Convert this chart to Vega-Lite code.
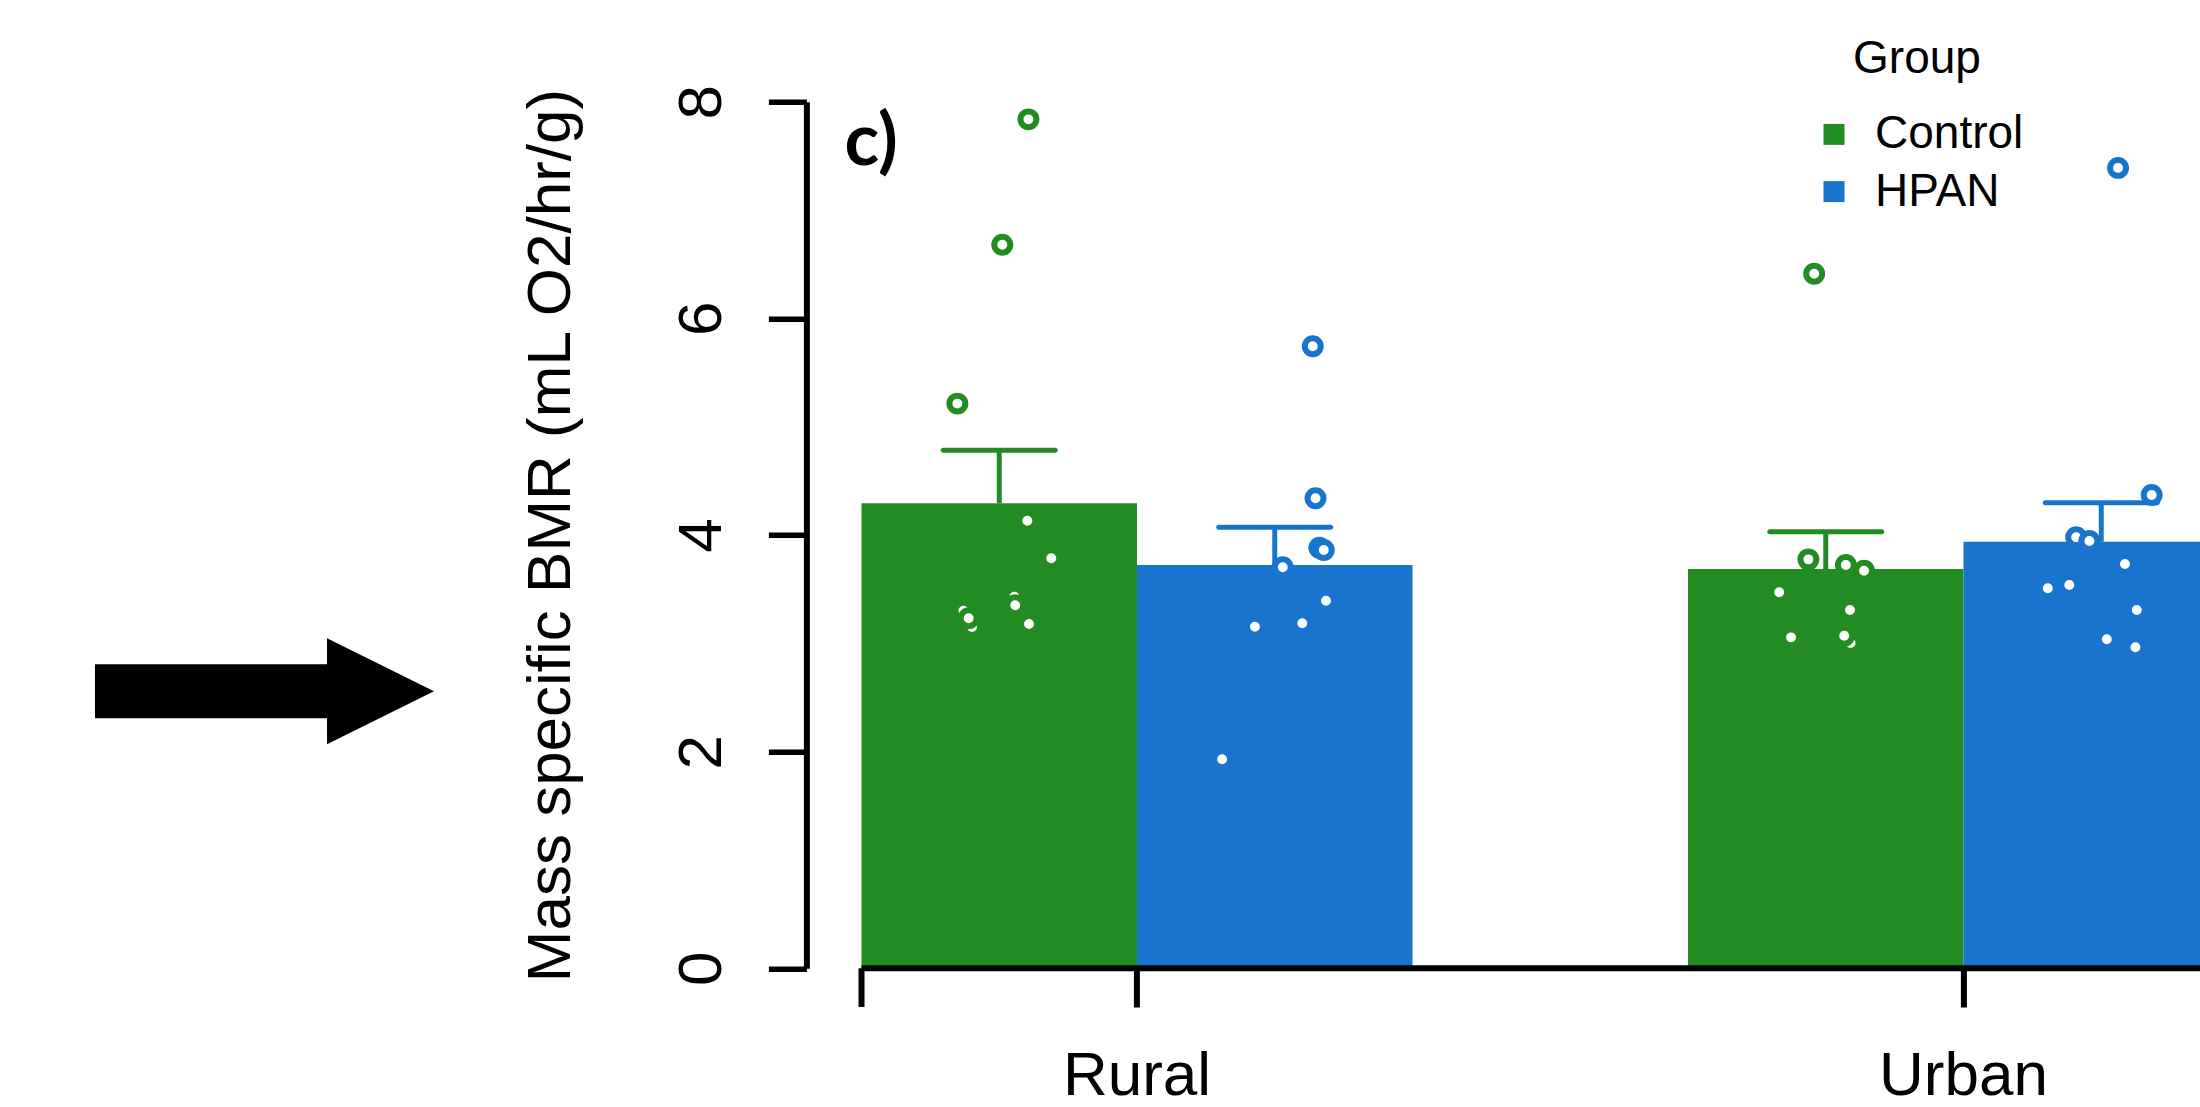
{
  "$schema": "https://vega.github.io/schema/vega-lite/v6.json",
  "width": 1393.6,
  "height": 866.6,
  "autosize": {"type": "none"},
  "padding": {"left": 806.4, "top": 101.7, "right": 0, "bottom": 138.7},
  "background": "white",
  "config": {"view": {"stroke": null}, "font": "Liberation Sans"},
  "datasets": {
    "bars": [
      {"site": "Rural", "group": "Control", "mean": 4.294, "se_top": 4.782},
      {"site": "Rural", "group": "HPAN", "mean": 3.723, "se_top": 4.071},
      {"site": "Urban", "group": "Control", "mean": 3.686, "se_top": 4.030},
      {"site": "Urban", "group": "HPAN", "mean": 3.938, "se_top": 4.298}
    ],
    "pts": [
      {"site": "Rural", "group": "Control", "val": 7.837, "jit": 0.606},
      {"site": "Rural", "group": "Control", "val": 6.679, "jit": 0.511},
      {"site": "Rural", "group": "Control", "val": 5.213, "jit": 0.348},
      {"site": "Rural", "group": "Control", "val": 4.132, "jit": 0.602},
      {"site": "Rural", "group": "Control", "val": 3.786, "jit": 0.689},
      {"site": "Rural", "group": "Control", "val": 3.430, "jit": 0.555},
      {"site": "Rural", "group": "Control", "val": 3.351, "jit": 0.558},
      {"site": "Rural", "group": "Control", "val": 3.301, "jit": 0.370},
      {"site": "Rural", "group": "Control", "val": 3.151, "jit": 0.401},
      {"site": "Rural", "group": "Control", "val": 3.178, "jit": 0.608},
      {"site": "Rural", "group": "Control", "val": 3.231, "jit": 0.389},
      {"site": "Rural", "group": "HPAN", "val": 5.743, "jit": 1.638},
      {"site": "Rural", "group": "HPAN", "val": 4.339, "jit": 1.648},
      {"site": "Rural", "group": "HPAN", "val": 3.883, "jit": 1.662},
      {"site": "Rural", "group": "HPAN", "val": 3.861, "jit": 1.678},
      {"site": "Rural", "group": "HPAN", "val": 3.702, "jit": 1.529},
      {"site": "Rural", "group": "HPAN", "val": 3.393, "jit": 1.686},
      {"site": "Rural", "group": "HPAN", "val": 3.153, "jit": 1.428},
      {"site": "Rural", "group": "HPAN", "val": 3.185, "jit": 1.600},
      {"site": "Rural", "group": "HPAN", "val": 1.929, "jit": 1.309},
      {"site": "Urban", "group": "Control", "val": 6.412, "jit": 0.458},
      {"site": "Urban", "group": "Control", "val": 3.775, "jit": 0.437},
      {"site": "Urban", "group": "Control", "val": 3.723, "jit": 0.573},
      {"site": "Urban", "group": "Control", "val": 3.670, "jit": 0.639},
      {"site": "Urban", "group": "Control", "val": 3.471, "jit": 0.331},
      {"site": "Urban", "group": "Control", "val": 3.307, "jit": 0.588},
      {"site": "Urban", "group": "Control", "val": 3.055, "jit": 0.374},
      {"site": "Urban", "group": "Control", "val": 3.003, "jit": 0.590},
      {"site": "Urban", "group": "Control", "val": 3.070, "jit": 0.567},
      {"site": "Urban", "group": "HPAN", "val": 7.389, "jit": 1.561},
      {"site": "Urban", "group": "HPAN", "val": 4.369, "jit": 1.683},
      {"site": "Urban", "group": "HPAN", "val": 3.979, "jit": 1.409},
      {"site": "Urban", "group": "HPAN", "val": 3.944, "jit": 1.457},
      {"site": "Urban", "group": "HPAN", "val": 3.732, "jit": 1.586},
      {"site": "Urban", "group": "HPAN", "val": 3.508, "jit": 1.306},
      {"site": "Urban", "group": "HPAN", "val": 3.538, "jit": 1.384},
      {"site": "Urban", "group": "HPAN", "val": 3.307, "jit": 1.629},
      {"site": "Urban", "group": "HPAN", "val": 3.037, "jit": 1.520},
      {"site": "Urban", "group": "HPAN", "val": 2.963, "jit": 1.624}
    ],
    "axisline": [{"site": "Rural", "site2": "Urban"}],
    "arrow": [{"kind": "arrow"}],
    "panel": [{"label": "c)"}]
  },
  "resolve": {"scale": {"x": "independent"}},
  "layer": [
    {
      "resolve": {"scale": {"xOffset": "independent"}},
      "layer": [
        {
          "data": {"name": "bars"},
          "mark": {"type": "bar", "opacity": 1},
          "encoding": {
            "x": {
              "field": "site", "type": "nominal",
              "scale": {"domain": ["Rural", "Urban"], "paddingInner": 0.333333, "paddingOuter": 0.0666667, "range": [0, 1487.7]},
              "axis": {"title": null, "domain": false, "ticks": true, "tickSize": 38.7, "tickWidth": 6, "tickColor": "black",
                       "labelFontSize": 62, "labelFont": "Liberation Sans", "labelColor": "black", "labelPadding": 87,
                       "labelBaseline": "alphabetic", "labelAngle": 0, "grid": false}
            },
            "xOffset": {"field": "group", "type": "nominal", "scale": {"domain": ["Control", "HPAN"], "paddingInner": 0, "paddingOuter": 0}},
            "y": {
              "field": "mean", "type": "quantitative",
              "scale": {"domain": [0, 8], "nice": false, "zero": true},
              "axis": {"title": "Mass specific BMR (mL O2/hr/g)", "values": [0, 2, 4, 6, 8], "format": "d", "grid": false,
                       "domain": true, "domainWidth": 6, "domainColor": "black",
                       "tickSize": 38, "tickWidth": 5.5, "tickColor": "black",
                       "labelAngle": 270, "labelAlign": "center", "labelBaseline": "alphabetic", "labelPadding": 48.4,
                       "labelFontSize": 62, "labelFont": "Liberation Sans", "labelColor": "black",
                       "titleFont": "Liberation Sans", "titleFontSize": 62, "titleFontWeight": "normal", "titleColor": "black",
                       "titleAngle": 270, "titleX": -237, "titleY": 433.3, "titleAlign": "center", "titleBaseline": "alphabetic"}
            },
            "color": {
              "field": "group", "type": "nominal",
              "scale": {"domain": ["Control", "HPAN"], "range": ["#228B22", "#1874CD"]},
              "legend": {"orient": "none", "legendX": 1004.6, "legendY": -64.3, "title": "Group",
                         "titleFontSize": 46, "titleFont": "Liberation Sans", "titleFontWeight": "normal", "titleColor": "black",
                         "titleAnchor": "middle", "titlePadding": 28,
                         "labelFontSize": 46, "labelFont": "Liberation Sans", "labelColor": "black", "labelOffset": 18,
                         "symbolType": "square", "symbolSize": 441, "symbolStrokeWidth": 0, "symbolOpacity": 1,
                         "rowPadding": 11.2, "padding": 0}
            }
          }
        },
        {
          "data": {"name": "bars"},
          "mark": {"type": "rule", "strokeWidth": 5},
          "encoding": {
            "x": {"field": "site", "type": "nominal"},
            "xOffset": {"field": "group", "type": "nominal", "scale": {"domain": ["Control", "HPAN"], "paddingInner": 0, "paddingOuter": 0}},
            "y": {"field": "mean", "type": "quantitative"},
            "y2": {"field": "se_top"},
            "stroke": {"field": "group", "type": "nominal", "scale": {"domain": ["Control", "HPAN"], "range": ["#228B22", "#1874CD"]}, "legend": null}
          }
        },
        {
          "data": {"name": "bars"},
          "mark": {"type": "tick", "size": 117, "thickness": 5, "cornerRadius": 2.5, "opacity": 1},
          "encoding": {
            "x": {"field": "site", "type": "nominal"},
            "xOffset": {"field": "group", "type": "nominal", "scale": {"domain": ["Control", "HPAN"], "paddingInner": 0, "paddingOuter": 0}},
            "y": {"field": "se_top", "type": "quantitative"},
            "fill": {"field": "group", "type": "nominal", "scale": {"domain": ["Control", "HPAN"], "range": ["#228B22", "#1874CD"]}, "legend": null}
          }
        },
        {
          "data": {"name": "pts"},
          "mark": {"type": "point", "shape": "circle", "filled": true, "fill": "white", "size": 254, "strokeWidth": 6, "opacity": 1},
          "encoding": {
            "x": {"field": "site", "type": "nominal"},
            "xOffset": {"field": "jit", "type": "quantitative", "scale": {"domain": [0, 2], "nice": false, "zero": false}},
            "y": {"field": "val", "type": "quantitative"},
            "stroke": {"field": "group", "type": "nominal", "legend": null}
          }
        },
        {
          "data": {"name": "axisline"},
          "mark": {"type": "rule", "strokeWidth": 6, "color": "black"},
          "encoding": {
            "x": {"field": "site", "type": "nominal", "bandPosition": 0},
            "x2": {"field": "site2", "bandPosition": 1},
            "y": {"datum": 0}
          }
        },
        {
          "data": {"name": "axisline"},
          "mark": {"type": "rule", "strokeWidth": 6, "color": "black"},
          "encoding": {
            "x": {"field": "site", "type": "nominal", "bandPosition": 0},
            "y": {"datum": 0},
            "y2": {"datum": -0.357}
          }
        }
      ]
    },
    {
      "layer": [
        {
          "data": {"name": "arrow"},
          "mark": {"type": "point", "shape": "M-1,-0.159L0.369,-0.159L0.369,-0.313L1,0L0.369,0.313L0.369,0.159L-1,0.159Z",
                   "filled": true, "color": "black", "opacity": 1, "size": 114921, "strokeWidth": 0},
          "encoding": {
            "x": {"datum": -1.167, "type": "quantitative", "scale": {"domain": [0.8, 5.8584], "nice": false, "zero": false}, "axis": null},
            "y": {"datum": 2.557}
          }
        },
        {
          "data": {"name": "panel"},
          "mark": {"type": "text", "font": "Lato", "fontWeight": "bold", "fontSize": 72, "align": "left", "baseline": "alphabetic", "color": "black"},
          "encoding": {
            "x": {"datum": 0.9383, "type": "quantitative", "axis": null},
            "y": {"datum": 7.415},
            "text": {"field": "label"}
          }
        }
      ]
    }
  ]
}
